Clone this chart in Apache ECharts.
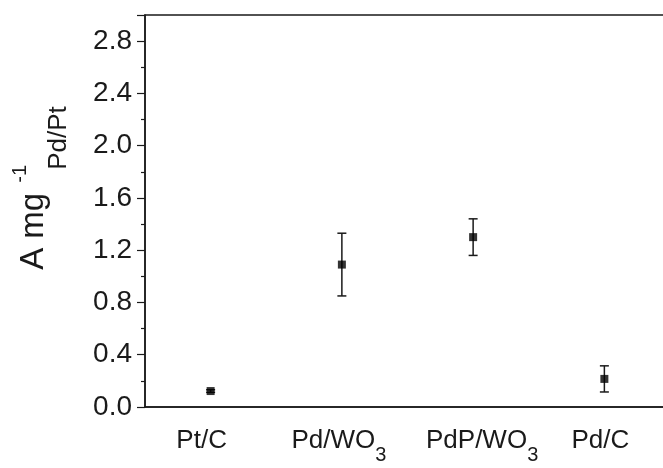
<!DOCTYPE html>
<html>
<head>
<meta charset="utf-8">
<script src="https://cdn.jsdelivr.net/npm/echarts@6/dist/echarts.min.js"></script>
<style>html,body{margin:0;padding:0;background:#fff;overflow:hidden;width:663px;height:468px}#c{width:680px;height:468px}</style>
</head>
<body>
<div id="c"></div>
<script>
var categories = ['Pt/C', 'Pd/WO3', 'PdP/WO3', 'Pd/C'];
var values = [0.122, 1.09, 1.30, 0.215];
var errors = [0.01, 0.24, 0.14, 0.10];
var yTicks = [0.0, 0.4, 0.8, 1.2, 1.6, 2.0, 2.4, 2.8];

var FONT = 'Liberation Sans, Arial, sans-serif';
var INK = '#1a1a1a';
// horizontal nudges of the category labels, as in the original figure (style only)
var labelShift = [-9, -3, 9, -4];

var chart = echarts.init(document.getElementById('c'), null, {renderer: 'canvas'});

var points = values.map(function (v, i) { return [i, v]; });
var bars = values.map(function (v, i) { return [i, v - errors[i], v + errors[i]]; });

var xRich = {};
labelShift.forEach(function (d, i) {
  var pl = d > 0 ? 2 * d : 0, pr = d < 0 ? -2 * d : 0;
  xRich['m' + i] = {fontSize: 26, lineHeight: 26, fontFamily: FONT, color: INK, verticalAlign: 'top', padding: [0, 0, 0, pl]};
  xRich['s' + i] = {fontSize: 20, lineHeight: 20, fontFamily: FONT, color: INK, verticalAlign: 'top', padding: [17, 0, 0, 0]};
  xRich['e' + i] = {fontSize: 26, lineHeight: 26, fontFamily: FONT, color: INK, verticalAlign: 'top', padding: [0, pr, 0, 0]};
});

chart.setOption({
  animation: false,
  backgroundColor: '#fff',
  grid: {
    left: 145, top: 15, bottom: 61, right: 10,
    show: true, borderColor: INK, borderWidth: 1.5, backgroundColor: 'transparent'
  },
  xAxis: {
    type: 'category',
    data: categories,
    boundaryGap: true,
    axisLine: {lineStyle: {color: INK, width: 1.5}},
    axisTick: {alignWithLabel: true, inside: false, length: 7, lineStyle: {color: INK, width: 1.2}},
    axisLabel: {
      margin: 21,
      color: INK,
      fontFamily: FONT,
      fontSize: 26,
      interval: 0,
      formatter: function (v, idx) {
        var m = v.match(/^(.*?)(3?)$/);
        if (m[2]) return '{m' + idx + '|' + m[1] + '}{s' + idx + '|3}{e' + idx + '|}';
        return '{m' + idx + '|' + m[1] + '}{e' + idx + '|}';
      },
      rich: xRich
    },
    splitLine: {show: false}
  },
  yAxis: {
    type: 'value',
    min: 0, max: 3.0, interval: 0.4,
    axisLine: {show: true, lineStyle: {color: INK, width: 1.5}},
    axisTick: {show: true, inside: false, length: 8, lineStyle: {color: INK, width: 1.2}},
    minorTick: {show: true, splitNumber: 2, length: 4, lineStyle: {color: INK, width: 1.2}},
    splitLine: {show: false},
    axisLabel: {
      margin: 13, color: INK, fontFamily: FONT, fontSize: 28,
      showMaxLabel: false,
      formatter: function (v) {
        for (var i = 0; i < yTicks.length; i++) { if (Math.abs(yTicks[i] - v) < 1e-6) return yTicks[i].toFixed(1); }
        return '';
      }
    },
    name: '{a|A mg}{sup|-1}{sub|Pd/Pt}',
    nameLocation: 'middle',
    nameGap: 102,
    nameMoveOverlap: false,
    nameRotate: 90,
    nameTextStyle: {
      padding: [0, 0, 0, 46],
      rich: {
        a: {fontSize: 33, lineHeight: 33, fontFamily: FONT, color: INK, verticalAlign: 'top', padding: [7, 15, 0, 0]},
        sup: {fontSize: 20, lineHeight: 20, fontFamily: FONT, color: INK, verticalAlign: 'top', width: 8, padding: [0, 0, 0, 0]},
        sub: {fontSize: 26, lineHeight: 26, fontFamily: FONT, color: INK, verticalAlign: 'top', padding: [36, 0, 0, 0]}
      }
    }
  },
  series: [
    {
      type: 'custom',
      data: bars,
      z: 2,
      renderItem: function (params, api) {
        var x = api.value(0);
        var lo = api.coord([x, api.value(1)]);
        var hi = api.coord([x, api.value(2)]);
        var hw = 4.5;
        var st = {stroke: INK, lineWidth: 1.5};
        return {
          type: 'group',
          children: [
            {type: 'line', shape: {x1: lo[0], y1: lo[1], x2: hi[0], y2: hi[1]}, style: st},
            {type: 'line', shape: {x1: lo[0] - hw, y1: lo[1], x2: lo[0] + hw, y2: lo[1]}, style: st},
            {type: 'line', shape: {x1: hi[0] - hw, y1: hi[1], x2: hi[0] + hw, y2: hi[1]}, style: st}
          ]
        };
      }
    },
    {
      type: 'scatter',
      data: points,
      symbol: 'rect',
      symbolSize: 8,
      z: 3,
      itemStyle: {color: '#000'}
    }
  ]
});
</script>
</body>
</html>
